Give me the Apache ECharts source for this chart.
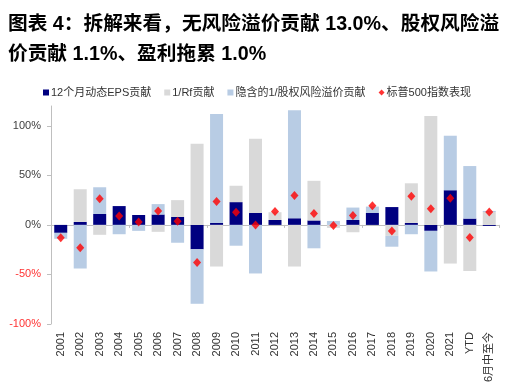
<!DOCTYPE html>
<html>
<head>
<meta charset="utf-8">
<script src="https://cdn.jsdelivr.net/npm/echarts@6/dist/echarts.min.js"></script>
<style>html,body{margin:0;padding:0;background:#fff;}#c{width:517px;height:391px;}</style>
</head>
<body>
<div id="c"></div>
<script>
var categories = ['2001','2002','2003','2004','2005','2006','2007','2008','2009','2010','2011','2012','2013','2014','2015','2016','2017','2018','2019','2020','2021','YTD','6月中至今'];
var epsContrib = [-8, 3, 11, 19, 10, 10.5, 8, -24.6, 2, 23, 12, 5, 6.7, 4.5, 0, 5, 12, 18, 2, -6, 35, 6.4, -1.0];
var rfContrib = [0, 33, -10, 0, 0, -7, 17, 82, -42, 16.5, 75, 7.8, -42, 40, -3, -7.4, 0, -11, 40, 110, -39, -46.5, 13.0];
var erpContrib = [-6, -44, 27, -9.4, -6, 10.5, -18, -55, 110, -21, -49, 0, 109, -23.6, 4, 12.5, 6.5, -11, -9.4, -41, 55, 53, 1.1];
var spxPerf = [-13, -23, 26.5, 9, 3, 14, 3.7, -38, 23.5, 12.8, 0, 13.5, 29.6, 11.4, -0.7, 9.5, 19.4, -6.2, 28.9, 16.3, 26.9, -12.8, 13.1];
var yTicks = {min: -100, max: 120, interval: 50};

var chart = echarts.init(document.getElementById('c'), null, {renderer: 'canvas'});
var font = 'Arial, "Liberation Sans", "Noto Sans CJK SC", sans-serif';
var option = {
  animation: false,
  backgroundColor: '#fff',
  title: {
    text: '图表 4：拆解来看，无风险溢价贡献 13.0%、股权风险溢\n价贡献 1.1%、盈利拖累 1.0%',
    left: 3, top: 5,
    textStyle: {fontSize: 19.7, fontWeight: 'bold', color: '#000', lineHeight: 30, fontFamily: font}
  },
  legend: {
    top: 82, left: 38,
    itemWidth: 6, itemHeight: 6, itemGap: 13,
    textStyle: {fontSize: 11, color: '#333', fontFamily: font, padding: [0,0,0,-3]},
    data: [
      {name: '12个月动态EPS贡献', icon: 'rect'},
      {name: '1/Rf贡献', icon: 'rect'},
      {name: '隐含的1/股权风险溢价贡献', icon: 'rect'},
      {name: '标普500指数表现', icon: 'diamond'}
    ]
  },
  grid: {left: 51, right: 18, top: 106, bottom: 67, containLabel: false},
  xAxis: [
    {
      type: 'category', data: categories, position: 'bottom',
      axisLine: {show: false, onZero: false}, axisTick: {show: false},
      axisLabel: {rotate: 90, fontSize: 11, color: '#333', margin: 8, interval: 0, fontFamily: font}
    },
    {
      type: 'category', data: categories, position: 'bottom',
      axisLine: {show: true, onZero: true, lineStyle: {color: '#bfbfbf', width: 1}},
      axisTick: {show: true, length: 3, lineStyle: {color: '#bfbfbf'}},
      axisLabel: {show: false}
    }
  ],
  yAxis: {
    type: 'value', min: yTicks.min, max: yTicks.max, interval: yTicks.interval,
    splitLine: {show: false},
    axisLine: {show: true, lineStyle: {color: '#bfbfbf'}},
    axisTick: {show: true, length: 4, lineStyle: {color: '#bfbfbf'}},
    axisLabel: {
      fontSize: 11, margin: 10, fontFamily: font, showMaxLabel: false,
      formatter: '{value}%',
      color: function (v) { return Number(v) < 0 ? '#ff3333' : '#404040'; }
    }
  },
  series: [
    {name: '12个月动态EPS贡献', type: 'bar', stack: 'a', barWidth: 13, data: epsContrib, itemStyle: {color: '#000080'}},
    {name: '1/Rf贡献', type: 'bar', stack: 'a', barWidth: 13, data: rfContrib, itemStyle: {color: '#d9d9d9'}},
    {name: '隐含的1/股权风险溢价贡献', type: 'bar', stack: 'a', barWidth: 13, data: erpContrib, itemStyle: {color: '#b8cce4'}},
    {name: '标普500指数表现', type: 'scatter', symbol: 'diamond', symbolSize: [8, 9], data: spxPerf, itemStyle: {color: '#ff0000'}, z: 5}
  ]
};
chart.setOption(option);
</script>
</body>
</html>
